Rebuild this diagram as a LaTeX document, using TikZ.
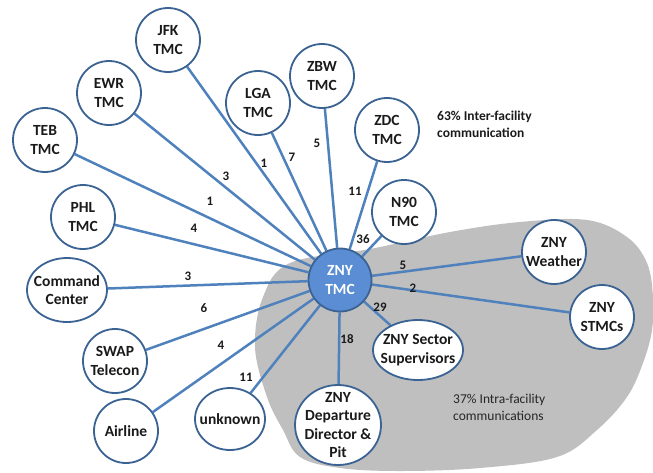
\documentclass[tikz,border=0pt]{standalone}
\usepackage{fontspec}
\setmainfont{Carlito}
\usetikzlibrary{shapes.geometric,backgrounds}
\definecolor{lkblue}{HTML}{4F81BD}
\definecolor{ndline}{HTML}{3A6393}
\definecolor{tmcfill}{HTML}{5A8DD3}
\definecolor{blobgray}{HTML}{BFBFBF}
\definecolor{txt}{HTML}{1A1A1A}
\tikzset{
  nd/.style={ellipse, draw=ndline, line width=1.8pt, fill=white,
    minimum width=64pt, minimum height=64pt, inner sep=0pt},
  lab/.style={align=center, inner sep=0pt, text=txt,
    font=\bfseries\fontsize{15.5}{18.5}\selectfont},
  lk/.style={draw=lkblue, line width=2.5pt},
  num/.style={inner sep=0pt, text=txt, font=\bfseries\fontsize{13}{15}\selectfont},
  note/.style={inner sep=0pt, align=left, text=txt, font=\fontsize{13.5}{17}\selectfont},
}
\begin{document}
\begin{tikzpicture}[x=1pt,y=-1pt]
\useasboundingbox (0,0) rectangle (653,472);
% nodes
\node[nd, label={[lab]center:JFK\\TMC}] (jfk) at (168,40) {};
\node[nd, label={[lab]center:EWR\\TMC}] (ewr) at (109,93) {};
\node[nd, label={[lab]center:TEB\\TMC}] (teb) at (45,140) {};
\node[nd, label={[lab]center:PHL\\TMC}] (phl) at (83,217) {};
\node[nd, label={[lab]center:LGA\\TMC}] (lga) at (258,103) {};
\node[nd, label={[lab]center:ZBW\\TMC}] (zbw) at (322,76) {};
\node[nd, label={[lab]center:ZDC\\TMC}] (zdc) at (387,130) {};
\node[nd, label={[lab]center:N90\\TMC}] (n90) at (404,212) {};
\node[nd, minimum width=80pt, minimum height=64pt, label={[lab]center:Command\\Center}] (cmd) at (67,290) {};
\node[nd, label={[lab]center:SWAP\\Telecon}] (swap) at (115,361) {};
\node[nd, label={[lab]center:Airline}] (air) at (126,431) {};
\node[nd, minimum width=70pt, minimum height=62pt, label={[lab]center:unknown}] (unk) at (230,419) {};
\node[nd, label={[lab]center:ZNY\\Weather}] (wx) at (554,252) {};
\node[nd, label={[lab]center:ZNY\\STMCs}] (stmc) at (602,317) {};
\node[nd, minimum width=90pt, minimum height=60pt, label={[lab]center:ZNY Sector\\Supervisors}] (sup) at (418,350) {};
\node[nd, minimum width=86pt, minimum height=80pt, label={[lab]center:ZNY\\Departure\\Director \&\\Pit}] (dep) at (338,425) {};
\node[nd, fill=tmcfill, minimum width=63pt, minimum height=63pt, label={[lab, text=white]center:ZNY\\TMC}] (tmc) at (340,280) {};
% numbers
\node[num] (n-jfk) at (264,163) {1};
\node[num] (n-lga) at (292,157) {7};
\node[num] (n-ewr) at (226,176) {3};
\node[num] (n-teb) at (210,201) {1};
\node[num] (n-phl) at (194,228) {4};
\node[num] (n-zbw) at (317,143) {5};
\node[num] (n-zdc) at (355,191) {11};
\node[num] (n-n90) at (363,239) {36};
\node[num] (n-cmd) at (188,276) {3};
\node[num] (n-swap) at (204,308) {6};
\node[num] (n-air) at (221,345) {4};
\node[num] (n-unk) at (246,377) {11};
\node[num] (n-wx) at (403,265) {5};
\node[num] (n-stmc) at (413,288) {2};
\node[num] (n-sup) at (380,307) {29};
\node[num] (n-dep) at (347,339) {18};
% notes
\node[note, font=\bfseries\fontsize{13.5}{17}\selectfont, anchor=west] (inter) at (437,124.5) {63\% Inter-facility\\communication};
\node[note, text=black!85, anchor=west] (intra) at (453,407) {37\% Intra-facility\\communications};
% background
\begin{scope}[on background layer]
\fill[blobgray] plot[smooth cycle, tension=0.6] coordinates {
  (290,263) (370,249) (450,232) (520,222) (587,220) (627,237) (647,263)
  (653,297) (652,330) (643,363) (627,397) (597,430) (557,457) (480,468)
  (400,471) (340,468) (300,457) (283,430) (267,397) (255,347) (263,297)};
\foreach \t in {jfk,ewr,teb,phl,lga,zbw,zdc,n90,cmd,swap,air,unk,wx,stmc,sup,dep}
  \draw[lk] (tmc) -- (\t);
\end{scope}
\end{tikzpicture}
\end{document}
